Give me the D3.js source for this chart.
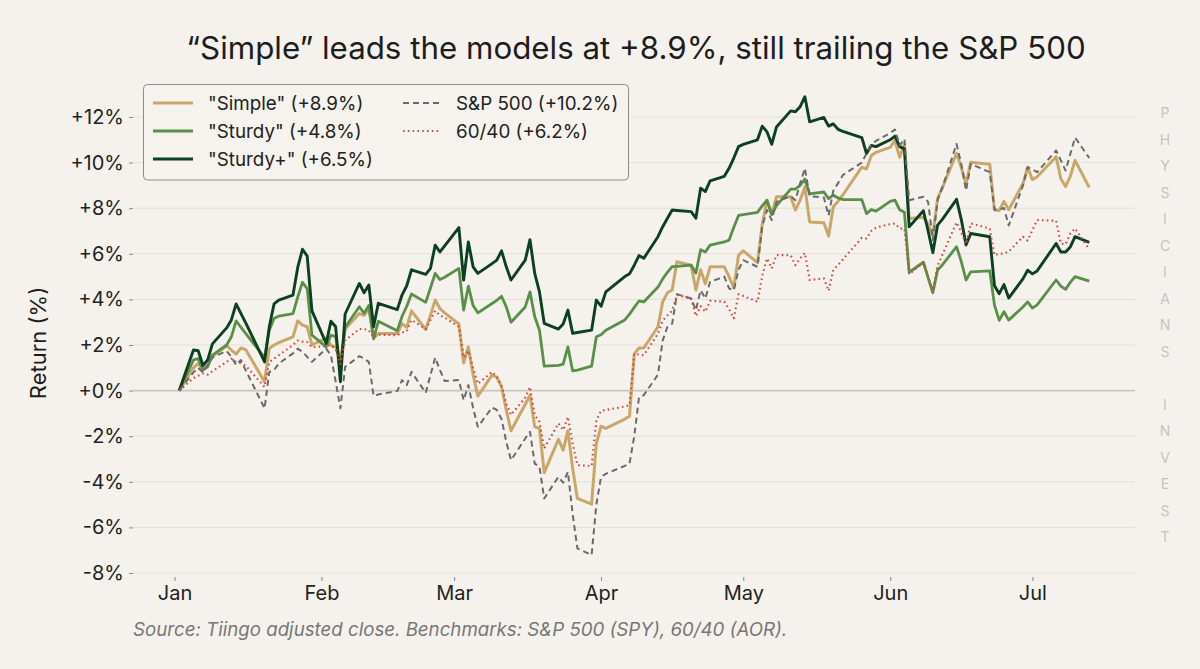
<!DOCTYPE html>
<html><head><meta charset="utf-8">
<script src="https://cdn.jsdelivr.net/npm/d3@7"></script>
<style>
html,body{margin:0;padding:0;background:#f5f2ed;}
svg{display:block;font-family:Inter,"Noto Sans","DejaVu Sans",sans-serif;}
</style></head><body>
<svg id="chart" width="1200" height="669"></svg>
<script>
const dates = [
"2026-01-02","2026-01-05","2026-01-06","2026-01-07","2026-01-08","2026-01-09","2026-01-12","2026-01-13","2026-01-14","2026-01-15","2026-01-16","2026-01-20","2026-01-21","2026-01-22","2026-01-23","2026-01-26","2026-01-27","2026-01-28","2026-01-29","2026-01-30",
"2026-02-02","2026-02-03","2026-02-04","2026-02-05","2026-02-06","2026-02-09","2026-02-10","2026-02-11","2026-02-12","2026-02-13","2026-02-17","2026-02-18","2026-02-19","2026-02-20","2026-02-23","2026-02-24","2026-02-25","2026-02-26","2026-02-27",
"2026-03-02","2026-03-03","2026-03-04","2026-03-05","2026-03-06","2026-03-09","2026-03-10","2026-03-11","2026-03-12","2026-03-13","2026-03-16","2026-03-17","2026-03-18","2026-03-19","2026-03-20","2026-03-23","2026-03-24","2026-03-25","2026-03-26","2026-03-27","2026-03-30","2026-03-31",
"2026-04-01","2026-04-02","2026-04-06","2026-04-07","2026-04-08","2026-04-09","2026-04-10","2026-04-13","2026-04-14","2026-04-15","2026-04-16","2026-04-17","2026-04-20","2026-04-21","2026-04-22","2026-04-23","2026-04-24","2026-04-27","2026-04-28","2026-04-29","2026-04-30",
"2026-05-01","2026-05-04","2026-05-05","2026-05-06","2026-05-07","2026-05-08","2026-05-11","2026-05-12","2026-05-13","2026-05-14","2026-05-15","2026-05-18","2026-05-19","2026-05-20","2026-05-21","2026-05-22","2026-05-26","2026-05-27","2026-05-28","2026-05-29",
"2026-06-01","2026-06-02","2026-06-03","2026-06-04","2026-06-05","2026-06-08","2026-06-09","2026-06-10","2026-06-11","2026-06-12","2026-06-15","2026-06-16","2026-06-17","2026-06-18","2026-06-22","2026-06-23","2026-06-24","2026-06-25","2026-06-26","2026-06-29","2026-06-30",
"2026-07-01","2026-07-02","2026-07-06","2026-07-07","2026-07-08","2026-07-09","2026-07-10","2026-07-13"];

const simple = [
0,1.0,1.2,0.9,1.15,1.5,1.97,1.78,1.6,1.87,1.8,0.39,1.84,2.0,2.1,2.36,3.06,2.87,2.8,2.0,
2.3,2.0,1.9,1.34,2.7,3.38,3.3,3.58,2.33,2.5,2.5,2.94,2.77,3.5,2.68,3.3,3.97,3.6,3.41,
2.92,1.21,1.92,0.7,-0.24,0.68,0.59,0.17,-0.86,-1.76,-0.6,-0.2,-1.59,-1.66,-3.6,-2.14,-2.61,-1.76,-3.41,-4.73,-4.98,-2.32,
-1.56,-1.66,-1.25,-1.12,1.61,1.87,1.87,2.8,3.9,4.29,4.41,5.65,5.5,4.41,5.3,4.69,5.43,5.43,5.0,4.5,5.94,
6.13,5.61,7.3,8.35,7.75,8.5,8.5,7.92,8.35,8.94,7.4,7.36,6.78,8.06,8.3,8.58,9.8,9.72,10.3,10.45,
10.67,10.96,10.23,10.82,7.55,7.6,7.3,6.8,8.43,8.9,10.4,9.78,9.07,10.02,9.93,7.93,7.9,8.3,7.93,9.07,9.8,
9.25,9.38,10.26,9.29,8.95,9.4,10.1,8.9];

const sturdy = [
0,1.35,1.4,0.9,1.05,1.56,2.0,2.36,3.06,2.78,2.51,1.45,2.65,3.16,3.27,3.38,4.1,4.75,4.47,2.43,
1.92,2.43,2.36,0.97,2.78,3.68,3.39,3.73,2.27,3.04,2.63,3.25,3.7,4.24,3.87,4.5,5.14,4.87,4.97,
5.36,3.53,4.58,3.73,3.41,3.82,3.96,4.14,3.67,3.0,3.67,4.33,3.24,2.65,1.07,1.11,1.16,1.92,0.86,0.9,1.07,2.36,
2.45,2.65,3.1,3.35,3.65,3.93,3.89,4.54,4.9,5.19,5.44,5.45,5.5,5.16,6.18,6.08,6.38,6.52,6.6,7.16,7.68,
7.72,7.82,8.1,8.35,7.72,8.11,8.84,8.84,9.0,9.28,8.63,8.71,8.42,8.57,8.45,8.38,8.38,7.76,7.94,7.87,
8.3,8.35,7.93,7.82,5.19,5.63,4.95,4.29,5.29,5.51,6.31,5.66,4.85,5.21,5.25,3.75,3.08,3.46,3.09,3.67,3.89,
3.62,3.76,4.85,4.58,4.44,4.75,5.0,4.8];

const sturdyPlus = [
0,1.78,1.75,1.1,1.35,2.05,2.75,3.1,3.8,3.39,2.98,1.26,2.8,3.8,3.97,4.19,5.4,6.2,5.9,3.5,
2.07,3.04,2.8,0.39,3.36,4.7,4.29,4.63,2.8,3.83,3.55,4.19,4.6,5.3,5.1,5.36,6.38,6.08,6.35,
7.15,4.85,6.52,5.43,5.14,5.57,5.72,6.13,5.43,4.85,5.72,6.62,5.14,4.33,2.95,2.7,2.92,3.53,2.51,2.55,2.65,3.97,
3.7,4.33,5.0,5.12,5.5,5.92,5.8,6.75,7.19,7.56,7.92,7.9,7.85,7.56,8.88,8.73,9.2,9.4,9.75,10.2,10.7,
10.8,11.0,11.6,11.35,10.8,11.56,12.27,12.23,12.45,12.89,11.79,11.98,11.6,11.7,11.46,11.37,11.1,10.4,10.75,10.7,
11.0,11.16,10.7,10.6,7.18,7.89,7.0,6.05,7.26,7.51,8.39,7.5,6.39,6.89,6.75,4.6,4.25,4.65,4.06,4.9,5.28,
5.12,5.25,6.45,6.08,6.08,6.3,6.75,6.5];

const sp500 = [
0,0.8,1.0,0.8,1.1,1.45,1.74,1.48,1.12,1.34,0.9,-0.78,0.82,0.9,1.19,1.63,1.84,1.7,1.48,1.26,
1.84,1.55,0.4,-0.78,1.04,1.51,1.4,1.26,-0.23,-0.17,-0.02,0.46,0.24,0.82,-0.1,0.68,1.45,0.9,0.42,
0.46,-0.42,0.24,-0.77,-1.59,-0.74,-0.85,-1.25,-2.24,-3.05,-2.1,-1.81,-3.2,-3.34,-4.73,-3.78,-4.04,-3.56,-5.42,-6.92,-7.21,-5.0,
-3.78,-3.65,-3.3,-3.2,-2.0,-0.3,-0.2,0.7,2.2,2.8,2.94,4.23,4.04,3.53,4.4,4.04,4.77,5.0,4.48,4.4,5.3,
5.72,5.43,7.2,7.92,7.48,8.28,8.53,8.35,9.09,9.75,8.53,8.47,7.68,8.77,9.1,9.45,10.0,10.4,10.8,10.95,
11.3,11.45,10.75,11.04,8.35,8.5,8.28,6.6,8.35,8.9,10.82,9.93,8.77,9.94,9.58,7.93,7.95,8.01,7.24,8.99,9.8,
9.7,9.58,10.53,10.1,9.65,10.38,11.1,10.2];

const sixtyForty = [
0,0.55,0.65,0.75,0.7,0.85,1.26,1.4,1.26,1.2,1.1,0.16,1.26,1.4,1.55,2.0,2.2,2.15,2.13,1.9,
1.95,2.0,1.8,1.17,2.2,2.7,2.7,2.65,2.33,2.45,2.43,2.55,2.6,3.1,2.7,3.1,3.5,3.3,3.2,
2.8,1.45,1.75,0.97,0.3,0.82,0.6,0.2,-0.57,-1.07,-0.3,0.16,-1.07,-1.37,-2.54,-1.44,-1.73,-1.15,-2.32,-3.27,-3.31,-1.3,
-0.88,-0.85,-0.7,-0.64,1.61,1.58,1.55,2.5,3.07,3.3,3.5,4.2,4.04,3.27,3.7,3.46,3.94,3.9,3.57,3.17,4.23,
4.15,3.9,5.04,5.8,5.36,5.94,5.94,5.5,5.8,6.04,4.85,4.92,4.38,5.3,5.51,5.75,6.7,6.67,7.0,7.15,
7.3,7.33,7.11,7.1,5.1,5.63,4.98,4.39,5.48,5.95,7.38,6.94,6.43,7.33,7.11,5.94,6.0,6.01,6.1,6.75,6.58,
7.04,7.48,7.45,6.45,6.42,6.9,7.11,6.2];

const yTicks = [-8,-6,-4,-2,0,2,4,6,8,10,12];
const monthTicks = ["2026-01-01","2026-02-01","2026-03-01","2026-04-01","2026-05-01","2026-06-01","2026-07-01"];

const seriesDefs = [
  {name:'"Simple" (+8.9%)', values:simple, color:"#c9a76b", width:3, dash:null},
  {name:'"Sturdy" (+4.8%)', values:sturdy, color:"#5a8f4a", width:2.8, dash:null},
  {name:'"Sturdy+" (+6.5%)', values:sturdyPlus, color:"#0d3f22", width:2.9, dash:null},
  {name:'S&P 500 (+10.2%)', values:sp500, color:"#6a6a6a", width:2, dash:"6,4"},
  {name:'60/40 (+6.2%)', values:sixtyForty, color:"#d4473d", width:2.1, dash:"1.6,3.2"}
];

const parse = d3.timeParse("%Y-%m-%d");
const dateObjs = dates.map(parse);

const svg = d3.select("#chart");
svg.append("rect").attr("width",1200).attr("height",669).attr("fill","#f5f2ed");

const x = d3.scaleTime().domain([parse("2026-01-01"), parse("2026-07-01")]).range([174.5, 1032.4]);
const y = d3.scaleLinear().domain([-8, 12]).range([573, 117]);

const gridL = 133, gridR = 1135;

svg.append("g").selectAll("line").data(yTicks).join("line")
  .attr("x1", gridL).attr("x2", gridR)
  .attr("y1", d => y(d)).attr("y2", d => y(d))
  .attr("stroke", d => d === 0 ? "#c9c6c0" : "#e2dfd9")
  .attr("stroke-width", d => d === 0 ? 1.6 : 1);

const fmtPct = v => (v >= 0 ? "+" : "-") + Math.abs(v) + "%";
const yAxis = svg.append("g").attr("transform", `translate(${gridL},0)`)
  .call(d3.axisLeft(y).tickValues(yTicks).tickFormat(fmtPct).tickSize(4).tickPadding(5));
yAxis.select(".domain").remove();
yAxis.selectAll(".tick line").attr("stroke", "#888");
yAxis.selectAll("text").attr("font-size", 20).attr("fill", "#222").attr("font-family","Inter, sans-serif");

const xAxis = svg.append("g").attr("transform", `translate(0,577)`)
  .call(d3.axisBottom(x).tickValues(monthTicks.map(parse)).tickFormat(d3.timeFormat("%b")).tickSize(4).tickPadding(5));
xAxis.select(".domain").remove();
xAxis.selectAll(".tick line").attr("stroke", "#888");
xAxis.selectAll("text").attr("font-size", 20).attr("fill", "#222").attr("font-family","Inter, sans-serif");

const line = d3.line().x((d,i) => x(dateObjs[i])).y(d => y(d));
seriesDefs.forEach(s => {
  svg.append("path").datum(s.values)
    .attr("d", line)
    .attr("fill", "none")
    .attr("stroke", s.color)
    .attr("stroke-width", s.width)
    .attr("stroke-linejoin", "round")
    .attr("stroke-dasharray", s.dash);
});

svg.append("text").attr("x", 636).attr("y", 59).attr("text-anchor","middle")
  .attr("font-size", 31.3).attr("fill","#1d1d1d")
  .text("\u201cSimple\u201d leads the models at +8.9%, still trailing the S&P 500");

svg.append("text").attr("transform","translate(46,343) rotate(-90)").attr("text-anchor","middle")
  .attr("font-size", 22).attr("fill","#1d1d1d").text("Return (%)");

const lg = svg.append("g");
lg.append("rect").attr("x",143.5).attr("y",84.5).attr("width",485).attr("height",95.5).attr("rx",4)
  .attr("fill","#f6f3ee").attr("stroke","#8c8c8c").attr("stroke-width",1);
const legendPos = [
  {lx:153, tx:208, yy:103},{lx:153, tx:208, yy:131},{lx:153, tx:208, yy:159},
  {lx:403, tx:456, yy:103},{lx:403, tx:456, yy:131}];
seriesDefs.forEach((s,i) => {
  const p = legendPos[i];
  lg.append("line").attr("x1",p.lx).attr("x2",p.lx+(i<3?40:37)).attr("y1",p.yy).attr("y2",p.yy)
    .attr("stroke", s.color).attr("stroke-width", s.width).attr("stroke-dasharray", s.dash);
  lg.append("text").attr("x",p.tx).attr("y",p.yy).attr("dy","0.36em")
    .attr("font-size",18.8).attr("fill","#222").text(s.name);
});

const wm = "PHYSICIANS INVEST".split("");
svg.append("g").selectAll("text").data(wm).join("text")
  .attr("x",1165).attr("y",(d,i)=>113 + i*26.5).attr("dy","0.36em")
  .attr("text-anchor","middle").attr("font-size",14).attr("fill","#c2c5be")
  .text(d => d);

svg.append("text").attr("x",133).attr("y",636).attr("font-size",18.7).attr("font-style","italic")
  .attr("fill","#777").text("Source: Tiingo adjusted close. Benchmarks: S&P 500 (SPY), 60/40 (AOR).");
</script>
</body></html>
